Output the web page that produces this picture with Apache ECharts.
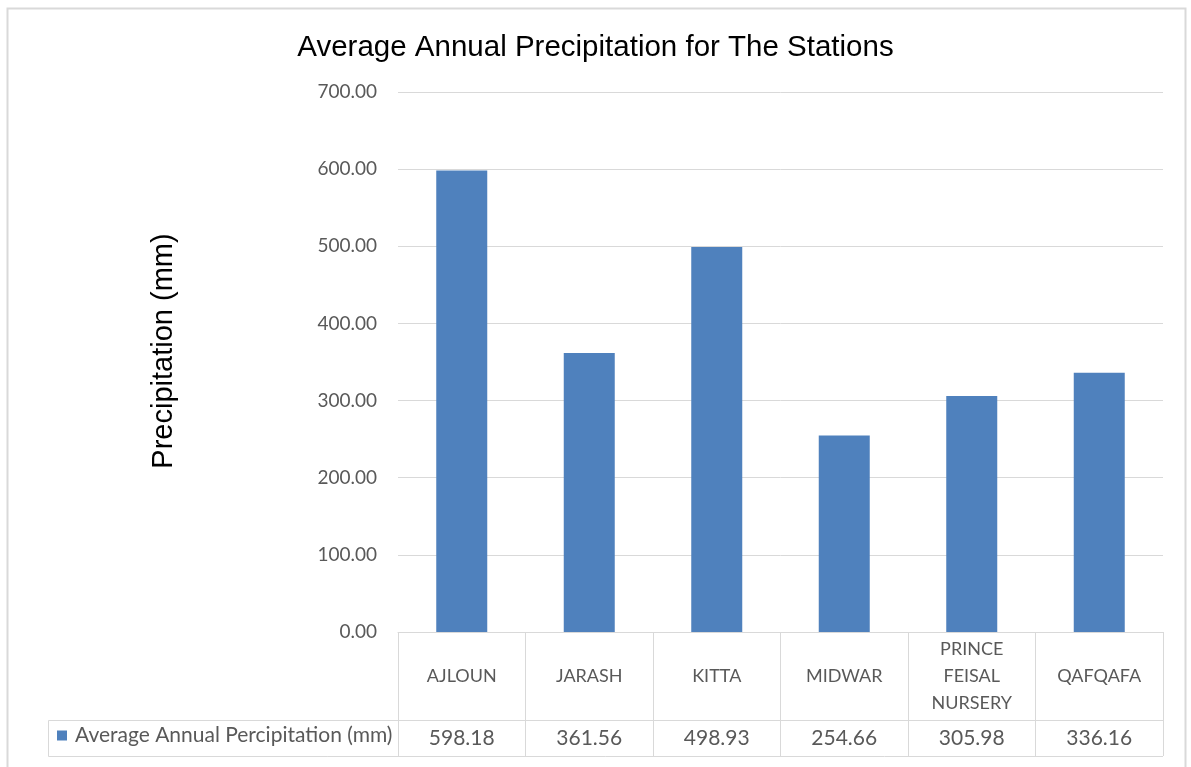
<!DOCTYPE html>
<html>
<head>
<meta charset="utf-8">
<title>Average Annual Precipitation for The Stations</title>
<script src="https://cdn.jsdelivr.net/npm/echarts@6/dist/echarts.min.js"></script>
<style>
  html, body { margin: 0; padding: 0; background: #ffffff; }
  #chart { width: 1191px; height: 767px; }
</style>
</head>
<body>
<div id="chart"></div>
<script>
// Stations and their average annual precipitation (mm)
const stations = ['AJLOUN', 'JARASH', 'KITTA', 'MIDWAR', 'PRINCE FEISAL NURSERY', 'QAFQAFA'];
const precipitation = [598.18, 361.56, 498.93, 254.66, 305.98, 336.16];
const seriesName = 'Average Annual Percipitation (mm)';
const yTicks = { min: 0, max: 700, interval: 100 };

const W = 1191, H = 767;
const grid = { left: 398, right: 28, top: 92, bottom: 135 };
const plotRight = W - grid.right;
const axisY = H - grid.bottom;        // category axis line
const rowCat = 88;                    // height of the category row
const rowVal = 36;                    // height of the values row
const tableLeft = 48;
const border = '#D9D9D9';
const textGray = '#595959';
const tableFont = 'Lato, "Open Sans", sans-serif';
const titleFont = '"Liberation Sans", Arial, sans-serif';

const chart = echarts.init(document.getElementById('chart'), null, { renderer: 'canvas' });

chart.setOption({
  backgroundColor: '#ffffff',
  animation: false,
  title: {
    text: 'Average Annual Precipitation for The Stations',
    left: 'center',
    top: 28,
    textStyle: { fontFamily: titleFont, fontSize: 29.5, fontWeight: 'normal', color: '#000000' }
  },
  legend: {
    data: [seriesName],
    left: tableLeft + 9,
    top: axisY + rowCat + 5,
    icon: 'rect',
    itemWidth: 10,
    itemHeight: 10,
    itemGap: 4,
    padding: 0,
    textStyle: { fontFamily: tableFont, fontSize: 21, color: textGray, padding: [0, 0, 0, 3] }
  },
  grid: { left: grid.left, right: grid.right, top: grid.top, bottom: grid.bottom },
  xAxis: [
    {
      type: 'category',
      data: stations,
      position: 'bottom',
      axisLine: { show: true, lineStyle: { color: border, width: 1 } },
      axisTick: { show: true, inside: false, length: rowCat + rowVal, lineStyle: { color: border, width: 1 } },
      axisLabel: {
        margin: rowCat / 2,
        verticalAlign: 'middle',
        fontFamily: tableFont,
        fontSize: 18,
        lineHeight: 27,
        color: textGray,
        formatter: v => v.split(' ').join('\n')
      },
      splitLine: { show: false }
    },
    {
      type: 'category',
      data: stations,
      position: 'bottom',
      offset: rowCat,
      axisLine: { show: true, lineStyle: { color: border, width: 1 } },
      axisTick: { show: false },
      axisLabel: {
        margin: rowVal / 2,
        verticalAlign: 'middle',
        fontFamily: tableFont,
        fontSize: 21,
        color: textGray,
        formatter: (v, i) => precipitation[i].toFixed(2)
      },
      splitLine: { show: false }
    }
  ],
  yAxis: {
    type: 'value',
    min: yTicks.min,
    max: yTicks.max,
    interval: yTicks.interval,
    name: 'Precipitation (mm)',
    nameLocation: 'middle',
    nameRotate: 90,
    nameGap: 220,
    nameTextStyle: { fontFamily: titleFont, fontSize: 29, color: '#000000', padding: [0, 0, 0, 22] },
    axisLine: { show: false },
    axisTick: { show: false },
    axisLabel: {
      margin: 21,
      fontFamily: tableFont,
      fontSize: 19,
      color: textGray,
      formatter: v => v.toFixed(2)
    },
    splitLine: { show: true, lineStyle: { color: border, width: 1 } }
  },
  series: [
    {
      name: seriesName,
      type: 'bar',
      xAxisIndex: 0,
      data: precipitation,
      barWidth: '40%',
      itemStyle: { color: '#4F81BD' }
    }
  ],
  graphic: [
    // chart frame
    {
      type: 'rect',
      silent: true,
      shape: { x: 7.5, y: 8.5, width: 1178, height: 780 },
      style: { fill: null, stroke: border, lineWidth: 2 }
    },
    // data table: legend cell and bottom edge
    {
      type: 'polyline',
      silent: true,
      shape: {
        points: [
          [grid.left, axisY + rowCat + 0.5],
          [tableLeft + 0.5, axisY + rowCat + 0.5],
          [tableLeft + 0.5, axisY + rowCat + rowVal + 0.5],
          [plotRight, axisY + rowCat + rowVal + 0.5]
        ]
      },
      style: { fill: null, stroke: border, lineWidth: 1 }
    }
  ]
});
</script>
</body>
</html>
